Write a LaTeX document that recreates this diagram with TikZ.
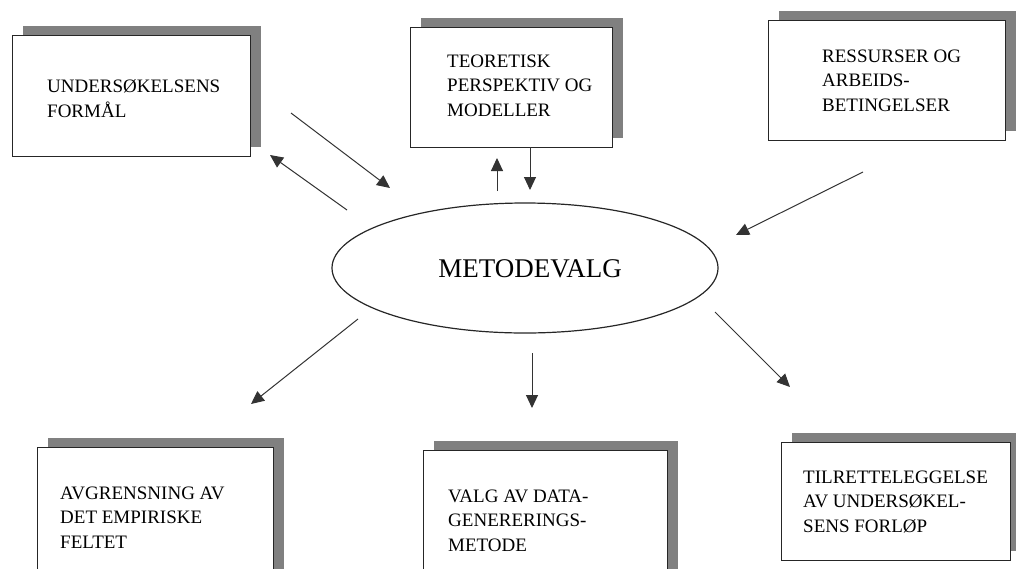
\documentclass[tikz,border=0pt]{standalone}
\usepackage{fontspec}
\setmainfont{Liberation Serif}
\usetikzlibrary{shadows,arrows.meta,shapes.geometric}
\begin{document}
\begin{tikzpicture}[x=1pt,y=-1pt,
  box/.style={draw=black!85, line width=1.2pt, fill=white, rectangle, inner sep=0pt, anchor=north west,
    drop shadow={shadow xshift=10pt, shadow yshift=10pt, fill=black!50, opacity=1}},
  lbl/.style={anchor=north west, font=\fontsize{19}{24.5}\selectfont, align=left, inner sep=0pt},
  arr/.style={draw=black!80, line width=1pt, -{Triangle[length=13pt,width=12pt]}}]
\useasboundingbox (0,0) rectangle (1016,568);
\clip (0,0) rectangle (1016,568);
% boxes
\node[box, minimum width=238pt, minimum height=121pt] (b1) at (12,35) {};
\node[box, minimum width=202pt, minimum height=120pt] (b2) at (410,27) {};
\node[box, minimum width=237pt, minimum height=120pt] (b3) at (768,20) {};
\node[box, minimum width=236pt, minimum height=150pt] (b4) at (37,447) {};
\node[box, minimum width=244pt, minimum height=150pt] (b5) at (423,450) {};
\node[box, minimum width=229pt, minimum height=118pt] (b6) at (781,442) {};
% labels
\node[lbl] (t1) at (47,79.5) {UNDERSØKELSENS\\FORMÅL};
\node[lbl] (t2) at (447,54.5) {TEORETISK\\PERSPEKTIV OG\\MODELLER};
\node[lbl] (t3) at (822,49.5) {RESSURSER OG\\ARBEIDS-\\BETINGELSER};
\node[lbl] (t4) at (60,486.5) {AVGRENSNING AV\\DET EMPIRISKE\\FELTET};
\node[lbl] (t5) at (448,489.5) {VALG AV DATA-\\GENERERINGS-\\METODE};
\node[lbl] (t6) at (803,470.5) {TILRETTELEGGELSE\\AV UNDERSØKEL-\\SENS FORLØP};
% ellipse
\node[ellipse, draw=black!85, line width=1.2pt, minimum width=386pt, minimum height=130pt, inner sep=0pt] (mv) at (525,268) {};
\node[font=\fontsize{27}{32}\selectfont, inner sep=0pt] (mvt) at (530,269) {METODEVALG};
% arrow end points
\coordinate (a1s) at (291,113); \coordinate (a1e) at (390,188);
\coordinate (a2s) at (347,210); \coordinate (a2e) at (270,155);
\coordinate (a3s) at (497,191); \coordinate (a3e) at (497,158);
\coordinate (a4s) at (530,147); \coordinate (a4e) at (530,190);
\coordinate (a5s) at (863,172); \coordinate (a5e) at (736,235);
\coordinate (a6s) at (358,319); \coordinate (a6e) at (251,404);
\coordinate (a7s) at (532,353); \coordinate (a7e) at (532,408);
\coordinate (a8s) at (715,312); \coordinate (a8e) at (790,387);
\draw[arr] (a1s) -- (a1e);
\draw[arr] (a2s) -- (a2e);
\draw[arr] (a3s) -- (a3e);
\draw[arr] (a4s) -- (a4e);
\draw[arr] (a5s) -- (a5e);
\draw[arr] (a6s) -- (a6e);
\draw[arr] (a7s) -- (a7e);
\draw[arr] (a8s) -- (a8e);
\end{tikzpicture}
\end{document}
